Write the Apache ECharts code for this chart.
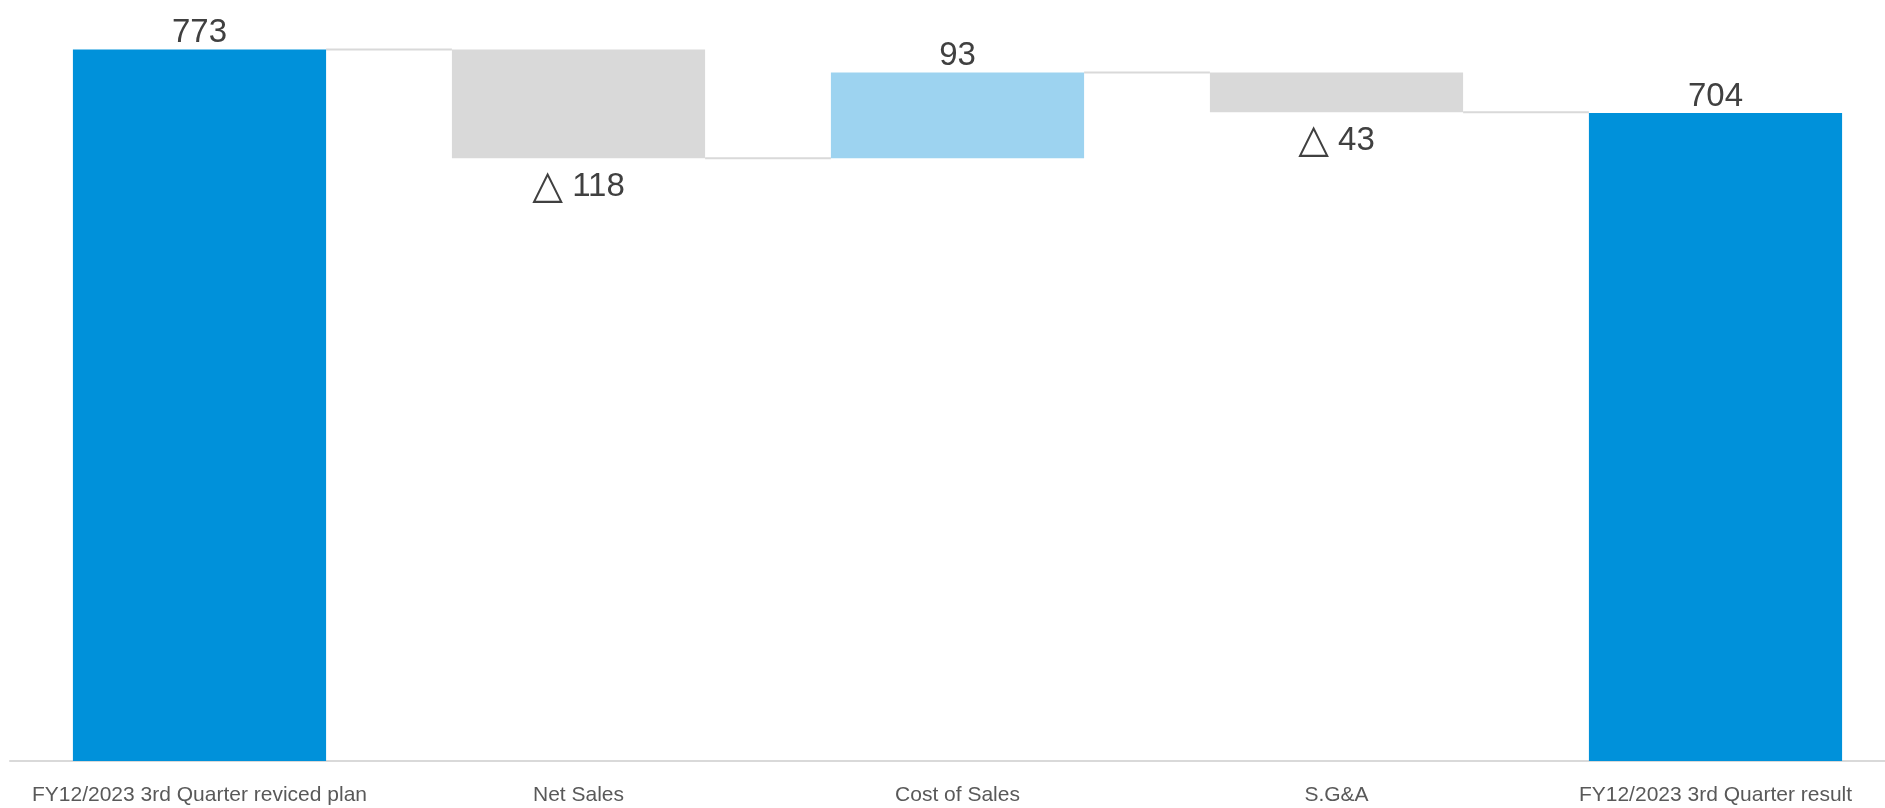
<!DOCTYPE html>
<html>
<head>
<meta charset="utf-8">
<script src="https://cdn.jsdelivr.net/npm/echarts@6/dist/echarts.min.js"></script>
<style>
html,body{margin:0;padding:0;background:#fff;overflow:hidden;width:1885px;height:808px;}
#chart{width:1910px;height:808px;}
</style>
</head>
<body>
<div id="chart"></div>
<script>
// Data
const categories = ['FY12/2023 3rd Quarter reviced plan', 'Net Sales', 'Cost of Sales', 'S.G&A', 'FY12/2023 3rd Quarter result'];
const values = [773, -118, 93, -43, 704];
const isTotal = [true, false, false, false, true];

const COLOR_TOTAL = '#0091DA';
const COLOR_UP = '#9DD3F0';
const COLOR_DOWN = '#D9D9D9';

// derive stacked bases and running levels
const baseData = [];
const barData = [];
const levels = [];
let running = 0;
values.forEach((v, i) => {
  if (isTotal[i]) {
    baseData.push(0);
    barData.push({ value: v, itemStyle: { color: COLOR_TOTAL }, label: { position: 'top', distance: 0, formatter: String(v) } });
    running = v;
  } else {
    const start = running, end = running + v;
    baseData.push(Math.min(start, end));
    barData.push({
      value: Math.abs(v),
      itemStyle: { color: v >= 0 ? COLOR_UP : COLOR_DOWN },
      label: v >= 0
        ? { position: 'top', distance: 0, formatter: String(v) }
        : { position: 'bottom', distance: 9, formatter: '{t|\u25B3} ' + Math.abs(v) }
    });
    running = end;
  }
  levels.push(running);
});
const connectorData = [];
for (let i = 0; i < values.length - 1; i++) connectorData.push([i, levels[i]]);

const BAR_RATIO = 0.668;
const chart = echarts.init(document.getElementById('chart'));
chart.setOption({
  animation: false,
  backgroundColor: '#ffffff',
  grid: { left: 10, top: 24.7, width: 1895, bottom: 47, containLabel: false },
  xAxis: {
    type: 'category',
    data: categories,
    axisTick: { show: false },
    axisLine: { show: true, lineStyle: { color: '#D9D9D9', width: 2 } },
    axisLabel: { interval: 0, color: '#595959', fontSize: 21, fontFamily: 'Liberation Sans', margin: 24 }
  },
  yAxis: {
    type: 'value', min: 0, max: 800, interval: 100,
    show: false, splitLine: { show: false }
  },
  series: [
    {
      type: 'bar', stack: 'w', data: baseData, barWidth: (BAR_RATIO * 100) + '%',
      itemStyle: { color: 'transparent' }, silent: true
    },
    {
      type: 'bar', stack: 'w', data: barData, barWidth: (BAR_RATIO * 100) + '%',
      label: {
        show: true, color: '#404040', fontSize: 33, fontFamily: 'Liberation Sans',
        rich: { t: { fontSize: 40, fontFamily: 'DejaVu Sans', color: '#404040' } }
      }
    },
    {
      type: 'custom',
      data: connectorData,
      silent: true,
      z: 1,
      renderItem: function (params, api) {
        const i = api.value(0), y = api.value(1);
        const p0 = api.coord([i, y]);
        const p1 = api.coord([i + 1, y]);
        const bw = api.size([1, 0])[0] * BAR_RATIO;
        return {
          type: 'line',
          shape: { x1: p0[0] + bw / 2, y1: p0[1], x2: p1[0] - bw / 2, y2: p1[1] },
          style: { stroke: '#D9D9D9', lineWidth: 2 }
        };
      }
    }
  ]
});
</script>
</body>
</html>
